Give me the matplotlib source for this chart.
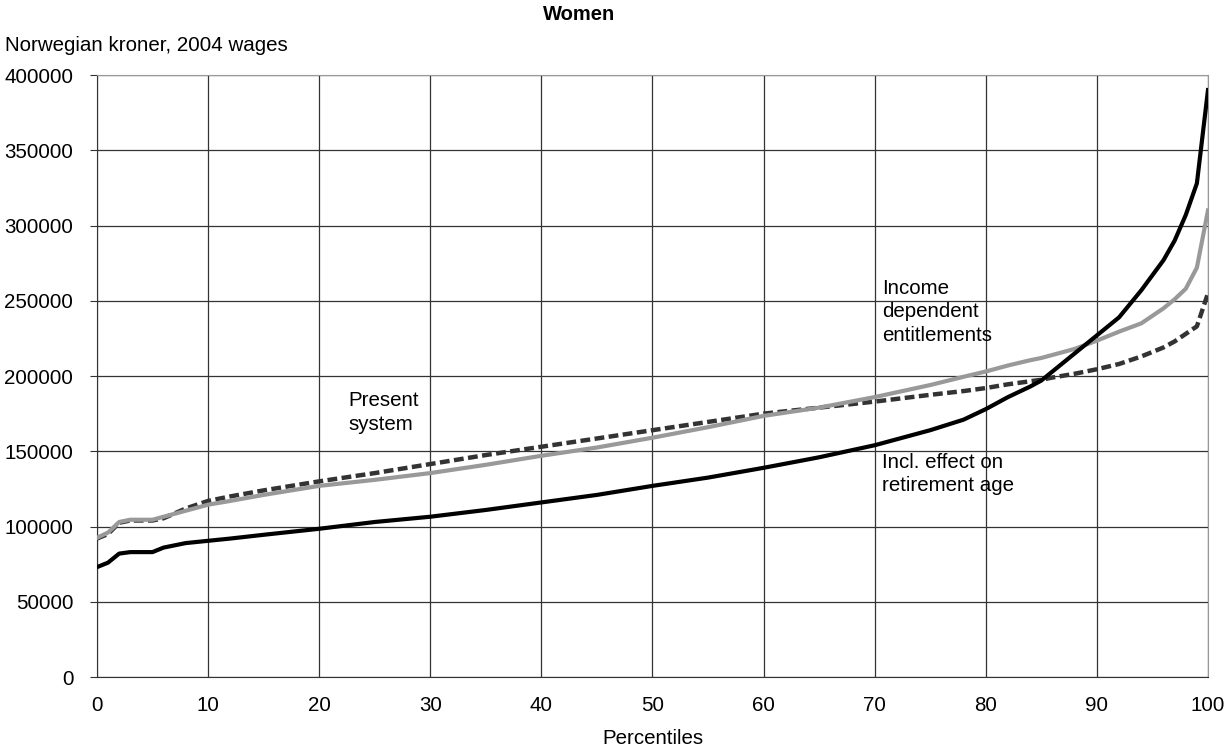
import matplotlib.pyplot as plt

plt.rcParams['font.family'] = ['Liberation Sans', 'DejaVu Sans']

# percentiles and pension levels (NOK, 2004 wages)
pct = [0, 1, 2, 3, 5, 6, 8, 10, 12, 15, 20, 25, 30, 35, 40, 45, 50, 55, 60,
       65, 70, 75, 78, 80, 82, 84, 85, 86, 88, 90, 92, 94, 96, 97, 98, 99, 100]

incl_retirement = [73000, 76000, 82000, 83000, 83000, 86000, 89000, 90500, 92000,
                   94500, 98500, 103000, 106500, 111000, 116000, 121000, 127000,
                   132500, 139000, 146000, 154000, 164000, 171000, 178000, 186000,
                   193000, 197000, 203000, 215000, 227000, 239000, 257000, 277000,
                   290000, 307000, 328000, 390000]

income_dependent = [92500, 96000, 103000, 104500, 104500, 106500, 110500, 114500,
                    117000, 121000, 127000, 131000, 135500, 141000, 147000, 152500,
                    159000, 166000, 173500, 179000, 186000, 194000, 199500, 203000,
                    207000, 210500, 212000, 214000, 218000, 223500, 229500, 235000,
                    245000, 251000, 258000, 272000, 310000]

present_system = [92000, 95000, 102500, 104000, 104000, 105500, 112000, 117000,
                  120000, 124000, 130000, 135500, 141500, 147500, 153000, 158500,
                  164000, 169500, 175000, 179000, 183000, 187500, 190000, 192000,
                  194500, 196500, 197500, 199000, 201500, 204500, 208000, 213000,
                  219000, 223000, 228000, 233000, 255000]

fs = 14.8

fig = plt.figure(figsize=(12.27, 7.54), dpi=100)
ax = fig.add_axes([0.079, 0.1021, 0.9055, 0.7984])

ax.plot(pct, present_system, color='#333333', lw=3.2, dashes=(2.2, 1.0), zorder=3)
ax.plot(pct, income_dependent, color='#999999', lw=3.0, zorder=4)
ax.plot(pct, incl_retirement, color='black', lw=3.0, zorder=5)

ax.set_xlim(0, 100)
ax.set_ylim(0, 400000)
ax.set_xticks(range(0, 101, 10))
ax.set_yticks(range(0, 400001, 50000))
ax.grid(True, color='#333333', lw=0.9)
ax.set_axisbelow(True)
ax.tick_params(axis='y', labelsize=fs, direction='out', length=5, color='#333333', pad=12)
ax.tick_params(axis='x', labelsize=fs, length=0, pad=14)

for s in ['top', 'right']:
    ax.spines[s].set_color('#999999')
for s in ['left', 'bottom']:
    ax.spines[s].set_color('#333333')

ax.text(22.6, 190000, 'Present\nsystem', fontsize=fs, va='top', linespacing=1.3)
ax.text(70.7, 264500, 'Income\ndependent\nentitlements', fontsize=fs, va='top', linespacing=1.3)
ax.text(70.7, 149000, 'Incl. effect on\nretirement age', fontsize=fs, va='top', linespacing=1.3)

fig.text(0.472, 0.981, 'Women', fontsize=14.5, fontweight='bold', ha='center', va='center')
fig.text(0.004, 0.94, 'Norwegian kroner, 2004 wages', fontsize=fs, ha='left', va='center')
ax.set_xlabel('Percentiles', fontsize=fs, labelpad=10)

fig.savefig('out.png', dpi=100)
